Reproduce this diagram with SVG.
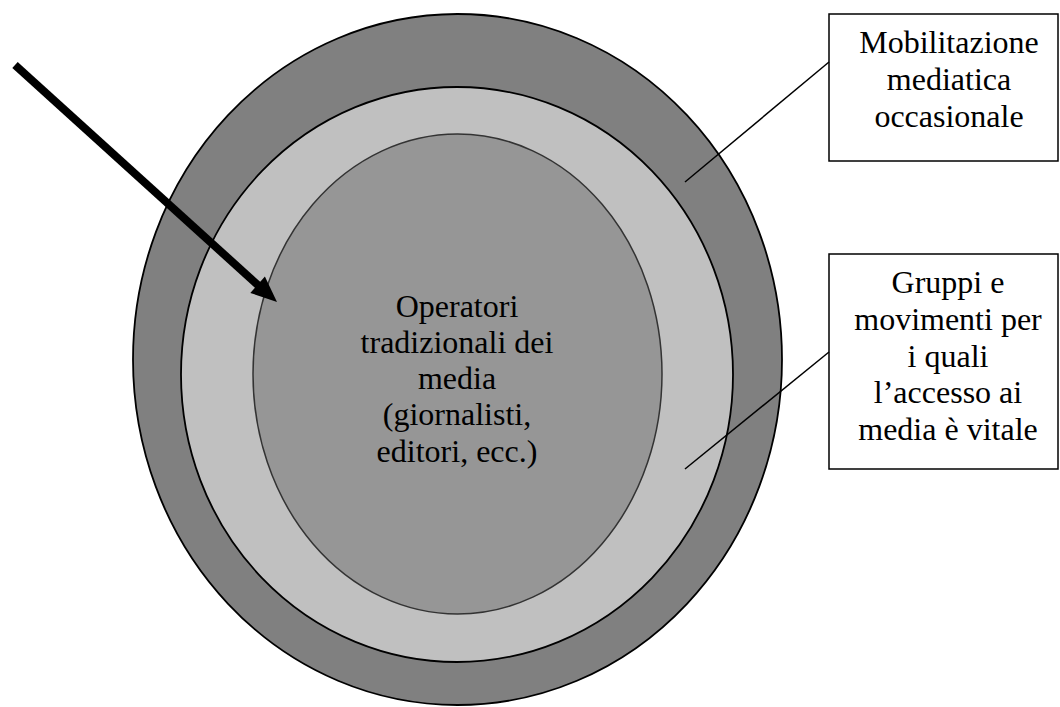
<svg xmlns="http://www.w3.org/2000/svg" width="1060" height="707" viewBox="0 0 1060 707">
<style>
.t{font-family:"Liberation Serif","Times New Roman",serif;font-size:32px;fill:#000;text-anchor:middle}
.box{fill:#fff;stroke:#000;stroke-width:1.5}
.ln{stroke:#000;stroke-width:1.5;fill:none}
</style>
<rect width="1060" height="707" fill="#fff"/>
<g id="outer"><ellipse cx="457.5" cy="359.5" rx="324.5" ry="345.5" fill="#808080" stroke="#000" stroke-width="1.8"/></g>
<g id="middle"><ellipse cx="457" cy="374.5" rx="276" ry="287.5" fill="#c0c0c0" stroke="#000" stroke-width="1.8"/></g>
<g id="inner"><ellipse cx="457.5" cy="374" rx="204.5" ry="240" fill="#969696" stroke="#333" stroke-width="1.5"/>
<text class="t"><tspan x="457" y="317">Operatori</tspan><tspan x="457" y="353">tradizionali dei</tspan><tspan x="457" y="389">media</tspan><tspan x="457" y="425">(giornalisti,</tspan><tspan x="457" y="462">editori, ecc.)</tspan></text></g>
<g id="box1"><rect class="box" x="829" y="14" width="229" height="147"/>
<text class="t"><tspan x="949" y="53">Mobilitazione</tspan><tspan x="949" y="90">mediatica</tspan><tspan x="949" y="127">occasionale</tspan></text></g>
<g id="box2"><rect class="box" x="829" y="254" width="229" height="215"/>
<text class="t"><tspan x="948" y="293">Gruppi e</tspan><tspan x="948" y="330">movimenti per</tspan><tspan x="948" y="367">i quali</tspan><tspan x="948" y="403">l’accesso ai</tspan><tspan x="948" y="440">media è vitale</tspan></text></g>
<g id="connectors">
<line class="ln" x1="829" y1="62" x2="685" y2="182"/>
<line class="ln" x1="829" y1="352" x2="685" y2="469"/>
<line x1="15" y1="65" x2="260" y2="287" stroke="#000" stroke-width="8"/>
<polygon points="277,302 250.3,292.9 264.9,276.5" fill="#000"/>
</g>
</svg>
